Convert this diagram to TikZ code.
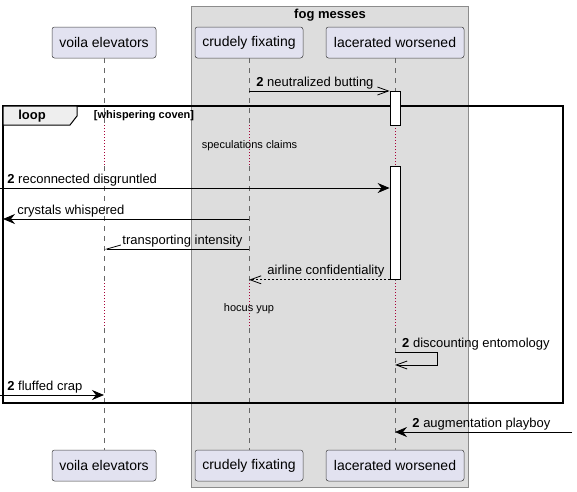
\documentclass[tikz,border=0pt]{standalone}
\usepackage{fontspec}
\setmainfont{Liberation Sans}
\usetikzlibrary{arrows.meta}

\definecolor{partfill}{HTML}{E2E2F0}
\definecolor{groupfill}{HTML}{DDDDDD}
\definecolor{groupline}{HTML}{8C8C8C}
\definecolor{tabfill}{HTML}{EEEEEE}
\definecolor{delayred}{HTML}{A80036}

\tikzset{
	participant/.style={draw=black!75, fill=partfill, rounded corners=2.5pt, line width=0.5pt,
		minimum height=31pt, inner sep=0pt, font=\fontsize{14}{16}\selectfont},
	lifeline/.style={draw=black!60, dash pattern=on 5pt off 5pt, line width=0.5pt},
	delayline/.style={draw=delayred, dash pattern=on 1pt off 2pt, line width=0.6pt},
	actbox/.style={draw=black, fill=white, minimum width=10pt, inner sep=0pt, line width=0.8pt},
	msg/.style={draw=black, line width=0.8pt},
	msgfill/.style={msg, -{Stealth[length=12pt, width=10pt, inset=4pt]}},
	msgopen/.style={msg, -{Straight Barb[length=11pt, width=8pt, line width=0.8pt]}},
	msghalf/.style={msg, -{Straight Barb[harpoon, swap, length=14pt, width=8pt, line width=0.8pt]}},
	lbl/.style={font=\fontsize{13}{15}\selectfont, inner sep=0pt, anchor=base west},
	delaylbl/.style={font=\fontsize{11}{13}\selectfont, inner sep=0pt},
}

\begin{document}
\begin{tikzpicture}[x=1pt, y=-1pt]
	\useasboundingbox (0,0) rectangle (577,491);

	% Group box
	\draw[fill=groupfill, draw=groupline, line width=0.8pt] (191,6) rectangle (468,487);
	\node[font=\bfseries\fontsize{13}{15}\selectfont, inner sep=0pt] (fog) at (330,15) {fog messes};

	% Participants
	\node[participant, minimum width=104pt] (voila) at (104,42.5) {voila elevators};
	\node[participant, minimum width=108pt] (crudely) at (249,42.5) {crudely fixating};
	\node[participant, minimum width=138pt] (lacerated) at (395,42.5) {lacerated worsened};
	\node[participant, minimum width=104pt] (voila-bot) at (104,465.5) {voila elevators};
	\node[participant, minimum width=108pt] (crudely-bot) at (249,465.5) {crudely fixating};
	\node[participant, minimum width=138pt] (lacerated-bot) at (395,465.5) {lacerated worsened};

	% Delays
	\coordinate (d1s) at (0,125);
	\coordinate (d1e) at (0,166);
	\coordinate (d2s) at (0,283);
	\coordinate (d2e) at (0,328);

	% Lifelines
	\foreach \p in {voila,crudely,lacerated} {
		\draw[lifeline] (\p.south) -- (\p.south |- d1s);
		\draw[delayline] (\p.south |- d1s) -- (\p.south |- d1e);
		\draw[lifeline] (\p.south |- d1e) -- (\p.south |- d2s);
		\draw[delayline] (\p.south |- d2s) -- (\p.south |- d2e);
		\draw[lifeline] (\p.south |- d2e) -- (\p-bot.north);
	}
	\node[delaylbl] (spec) at (249.5,146) {speculations claims};
	\node[delaylbl] (hocus) at (249,309) {hocus yup};

	% Loop frame
	\draw[line width=1.5pt] (3,106) rectangle (563,403);
	\draw[fill=tabfill, line width=1pt] (3,106) -- (77,106) -- (77,116) -- (70,125) -- (3,125) -- cycle;
	\node[font=\bfseries\fontsize{13}{15}\selectfont, inner sep=0pt] (loop) at (32,116) {loop};
	\node[font=\bfseries\fontsize{11}{13}\selectfont, inner sep=0pt] (guard) at (144,116) {[whispering coven]};

	% Message levels
	\coordinate (m1) at (0,91);
	\coordinate (m2) at (0,188);
	\coordinate (m3) at (3,219);
	\coordinate (m4) at (0,249);
	\coordinate (m6) at (0,352);
	\coordinate (m7) at (0,395);
	\coordinate (m8) at (572,432);

	% Activations
	\node[actbox, minimum height=34pt, anchor=north] (act1) at (lacerated.south |- m1) {};
	\node[actbox, minimum height=113pt, anchor=north] (act2) at (lacerated.south |- d1e) {};

	% Messages
	\draw[msgopen] (crudely.south |- m1) -- (act1.north west)
		node[lbl, at start, xshift=7pt, yshift=5pt] {\textbf{2} neutralized butting};
	\draw[msgfill] (m2) -- (act2.west |- m2)
		node[lbl, at start, xshift=7pt, yshift=5pt] {\textbf{2} reconnected disgruntled};
	\draw[msgfill] (crudely.south |- m3) -- (m3)
		node[lbl, at end, xshift=14pt, yshift=5pt] {crystals whispered};
	\draw[msghalf] (crudely.south |- m4) -- (voila.south |- m4)
		node[lbl, at end, xshift=18pt, yshift=5pt] {transporting intensity};
	\draw[msgopen, dash pattern=on 2pt off 2pt] (act2.south west) -- (crudely.south |- act2.south west)
		node[lbl, at end, xshift=18pt, yshift=5pt] {airline confidentiality};
	\draw[msgopen] (lacerated.south |- m6) -- ++(42,0) -- ++(0,13) -- ++(-42,0);
	\node[lbl, xshift=7pt, yshift=5pt] (self) at (lacerated.south |- m6) {\textbf{2} discounting entomology};
	\draw[msgfill] (m7) -- (voila.south |- m7)
		node[lbl, at start, xshift=7pt, yshift=5pt] {\textbf{2} fluffed crap};
	\draw[msgfill] (m8) -- (lacerated.south |- m8)
		node[lbl, at end, xshift=17pt, yshift=5pt] {\textbf{2} augmentation playboy};
\end{tikzpicture}
\end{document}
